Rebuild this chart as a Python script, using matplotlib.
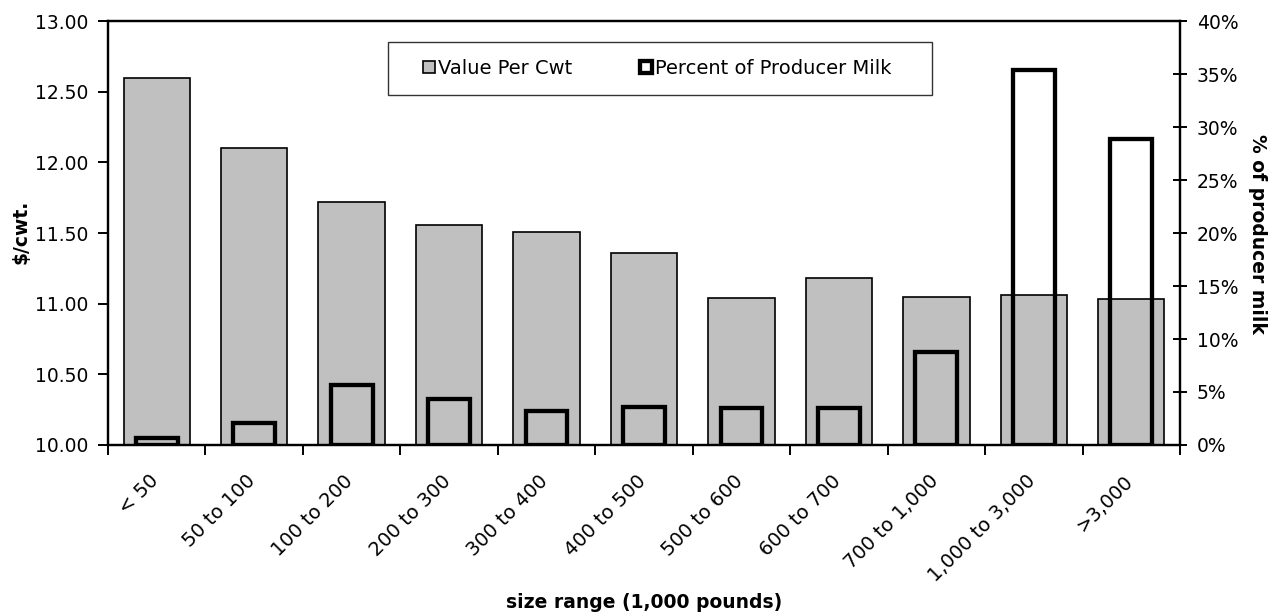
import matplotlib.pyplot as plt
import matplotlib.transforms as mtransforms
from matplotlib.patches import Rectangle
import numpy as np
from matplotlib.ticker import PercentFormatter, FormatStrFormatter

plt.rcParams['font.family'] = ['DejaVu Sans']

size_ranges = ['< 50', '50 to 100', '100 to 200', '200 to 300', '300 to 400',
               '400 to 500', '500 to 600', '600 to 700', '700 to 1,000',
               '1,000 to 3,000', '>3,000']
value_per_cwt = [12.60, 12.10, 11.72, 11.56, 11.51, 11.36, 11.04, 11.18, 11.05, 11.06, 11.03]
pct_producer_milk = [0.7, 2.1, 5.7, 4.3, 3.2, 3.6, 3.5, 3.5, 8.8, 35.4, 28.9]

x = np.arange(len(size_ranges))

fig = plt.figure(figsize=(12.76, 6.16), dpi=100)
ax = fig.add_axes([0.0846, 0.2776, 0.8402, 0.6883])
ax2 = ax.twinx()

ax.bar(x, np.array(value_per_cwt) - 10, bottom=10, width=0.68,
       color='#C0C0C0', edgecolor='black', linewidth=1.2, label='Value Per Cwt', zorder=2)
ax2.bar(x, pct_producer_milk, width=0.43, facecolor='none', edgecolor='black',
        linewidth=3.1, label='Percent of Producer Milk', zorder=3)

ax.set_xlim(-0.5, len(x) - 0.5)
ax.set_ylim(10, 13)
ax.set_yticks(np.arange(10, 13.01, 0.5))
ax.yaxis.set_major_formatter(FormatStrFormatter('%.2f'))
ax2.set_ylim(0, 40)
ax2.set_yticks(np.arange(0, 41, 5))
ax2.yaxis.set_major_formatter(PercentFormatter(decimals=0))

# category labels sit under the bars, tick marks go on the boundaries
ax.set_xticks(x)
ax.set_xticklabels(size_ranges, rotation=45, ha='right', va='top', rotation_mode='anchor')
ax.set_xticks(np.arange(-0.5, len(x)), minor=True)
ax.tick_params(axis='x', which='major', length=0, pad=19, labelsize=14)
ax.tick_params(axis='x', which='minor', length=7, width=1.4, direction='out')
shift = mtransforms.ScaledTranslation(-0.08, 0, fig.dpi_scale_trans)
for lab in ax.get_xticklabels():
    lab.set_transform(lab.get_transform() + shift)

ax.tick_params(axis='y', length=7, width=1.4, direction='out', labelsize=13.5, pad=7)
ax2.tick_params(axis='y', length=10, width=1.4, direction='inout', labelsize=13.5, pad=7)

for a in (ax, ax2):
    for s in a.spines.values():
        s.set_linewidth(1.6)

ax.set_ylabel('$/cwt.', fontweight='bold', fontsize=13.5)
ax.yaxis.set_label_coords(-0.0812, 0.502)
ax.yaxis.label.set_va('center')
ax2.set_ylabel('% of producer milk', fontweight='bold', fontsize=13.5, rotation=-90)
ax2.yaxis.set_label_coords(1.0718, 0.497)
ax2.yaxis.label.set_va('center')
ax.set_xlabel('size range (1,000 pounds)', fontweight='bold', fontsize=13.5)
ax.xaxis.set_label_coords(0.5, -0.3726)
ax.xaxis.label.set_va('center')

# legend box
frame = Rectangle((0.2612, 0.8255), 0.5075, 0.125, transform=ax2.transAxes,
                  facecolor='white', edgecolor='#333333', linewidth=1.0, zorder=6)
ax2.add_patch(frame)
h1, l1 = ax.get_legend_handles_labels()
h2, l2 = ax2.get_legend_handles_labels()
leg = ax2.legend(h1 + h2, l1 + l2, ncol=2, loc='center left',
                 bbox_to_anchor=(0.2938, 0.888), frameon=False,
                 fontsize=14, handlelength=0.62, handleheight=0.62,
                 handletextpad=0.15, borderpad=0, borderaxespad=0, columnspacing=3.5)
leg.set_zorder(7)

fig.savefig('out.png', dpi=100)
